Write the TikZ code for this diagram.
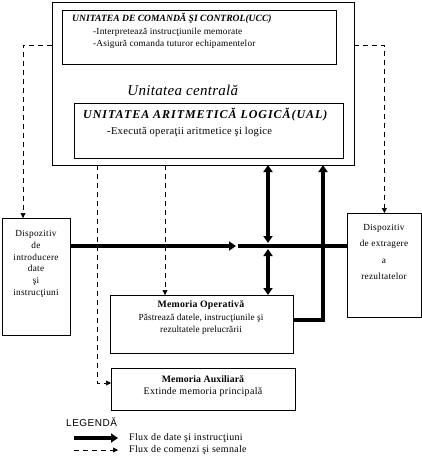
\documentclass[tikz,border=0pt]{standalone}
\usepackage{fontspec}
\setmainfont{Liberation Serif}
\newfontfamily\legfont{Liberation Sans}
\usetikzlibrary{arrows.meta}
\begin{document}
\begin{tikzpicture}[x=1pt,y=-1pt,
  box/.style={draw,line width=0.8pt,anchor=north west,inner sep=0pt},
  txt/.style={inner sep=0pt,align=center},
  thk/.style={line width=4.5pt},
  dsh/.style={dashed,line width=0.6pt,dash pattern=on 5pt off 4pt},
  tip/.style={-{Triangle[length=7pt,width=9pt]}},
  dtip/.style={-{Triangle[length=5pt,width=5pt]}},
  fs/.style={font=\fontsize{#1}{#1}\selectfont},
  fsl/.style 2 args={font=\fontsize{#1}{#1}\selectfont\addfontfeature{LetterSpace=#2}}
]
\useasboundingbox (0,0) rectangle (422,469);
% central unit
\node[box,minimum width=302pt,minimum height=163pt] (uc) at (52,2) {};
\node[box,minimum width=274pt,minimum height=54pt] (ucc) at (62,10) {};
\node[box,minimum width=269pt,minimum height=55pt] (ual) at (74,103) {};
\node[txt,anchor=west,fs=9.6] (ucct) at (72,18) {\textbf{\textit{UNITATEA DE COMANDĂ ŞI CONTROL(UCC)}}};
\node[txt,anchor=west,fsl={9.3}{2}] (ucc1) at (93,32) {-Interpretează instrucţiunile memorate};
\node[txt,anchor=west,fsl={9.3}{2}] (ucc2) at (93,44) {-Asigură comanda tuturor echipamentelor};
\node[txt,fsl={15}{2}] (uct) at (183,90) {\textit{Unitatea centrală}};
\node[txt,anchor=west,fsl={12}{8}] (ualt) at (83,115) {\textbf{\textit{UNITATEA ARITMETICĂ LOGICĂ(UAL)}}};
\node[txt,anchor=west,fsl={10.5}{3}] (ual1) at (107,132) {-Execută operaţii aritmetice şi logice};
% devices
\node[box,minimum width=68pt,minimum height=117pt] (din) at (2,218) {};
\node[txt,fsl={9.3}{3},align=center] (dint) at (36,264) {Dispozitiv\\[2.5pt]de\\[2.5pt]introducere\\[2.5pt]date\\[2.5pt]şi\\[2.5pt]instrucţiuni};
\node[box,minimum width=74pt,minimum height=104pt] (dext) at (347,213) {};
\node[txt,fsl={9.3}{3},align=center] (dextt) at (384,252) {Dispozitiv\\[7pt]de extragere\\[7pt]a\\[7pt]rezultatelor};
\node[box,minimum width=183pt,minimum height=58pt] (mo) at (110,295) {};
\node[txt,fsl={9.8}{2}] (mot) at (201,305) {\textbf{Memoria Operativă}};
\node[txt,fsl={9.3}{1}] (mo1) at (201,318) {Păstrează datele, instrucţiunile şi};
\node[txt,fsl={9.3}{1}] (mo2) at (201,330) {rezultatele prelucrării};
\node[box,minimum width=184pt,minimum height=42pt] (aux) at (111,368) {};
\node[txt,fsl={9.8}{1}] (auxt) at (203,379) {\textbf{Memoria Auxiliară}};
\node[txt,fsl={10}{3}] (aux1) at (203,392) {Extinde memoria principală};
% dashed connectors
\coordinate (c1) at (52,45);
\coordinate (d1) at (23,45);
\draw[dsh,dtip] (c1) -- (d1) -- (d1 |- din.north);
\coordinate (c2) at (354,45);
\draw[dsh,dtip] (c2) -| (dext.north);
\coordinate (c3) at (97,165);
\coordinate (c4) at (97,383);
\draw[dsh,dtip] (c3) -- (c4) -- (c4 -| aux.west);
\coordinate (c5) at (165,165);
\draw[dsh,dtip] (c5) -- (c5 |- mo.north);
% thick data flows
\coordinate (h1) at (70,246);
\coordinate (h2) at (236,246);
\coordinate (h3) at (238,246);
\draw[thk,tip] (din.east |- h1) -- (h2);
\draw[thk] (h3) -- (dext.west |- h3);
\coordinate (v1) at (268,165);
\coordinate (v2) at (268,243);
\coordinate (v3) at (268,249);
\draw[thk,{Triangle[length=7pt,width=9pt]}-{Triangle[length=7pt,width=9pt]}] (v1) -- (v2);
\draw[thk,{Triangle[length=7pt,width=9pt]}-{Triangle[length=7pt,width=9pt]}] (v3) -- (v3 |- mo.north);
\coordinate (w1) at (323,320);
\coordinate (w2) at (323,165);
\draw[thk,tip] (mo.east |- w1) -- (w1) -- (w2);
% legend
\node[txt,anchor=west,font=\legfont\fontsize{10}{10}\selectfont\addfontfeature{LetterSpace=5}] (leg) at (66,422) {LEGENDĂ};
\coordinate (l1) at (74,438);
\coordinate (l2) at (118,438);
\draw[thk,tip] (l1) -- (l2);
\node[txt,anchor=west,fsl={10}{3}] (leg1) at (129,438) {Flux de date şi instrucţiuni};
\coordinate (l3) at (74,450);
\coordinate (l4) at (118,450);
\draw[dsh,dtip] (l3) -- (l4);
\node[txt,anchor=west,fsl={10}{3}] (leg2) at (129,450) {Flux de comenzi şi semnale};
\end{tikzpicture}
\end{document}
